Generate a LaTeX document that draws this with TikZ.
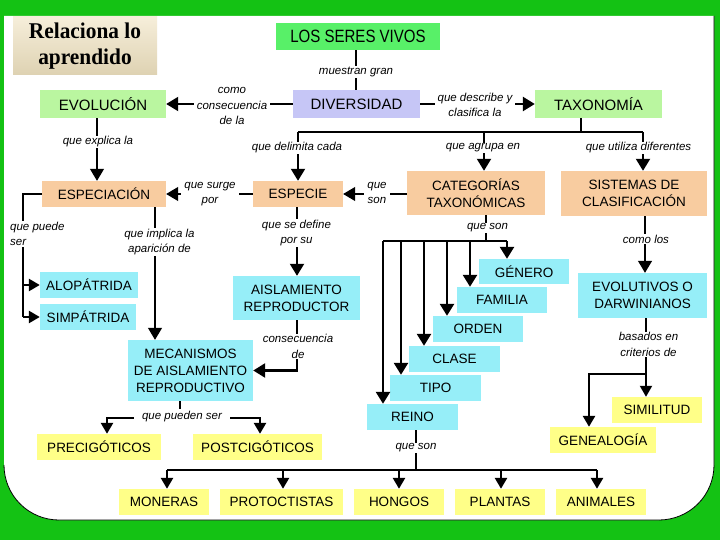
\documentclass[tikz,border=0pt]{standalone}
\usepackage{fontspec}
\setmainfont{Liberation Sans}
\newfontfamily\titlefont{Liberation Serif}
\usetikzlibrary{arrows.meta}
\definecolor{bggreen}{RGB}{20,194,20}
\definecolor{topgreen}{RGB}{88,240,104}
\definecolor{lgreen}{RGB}{186,246,160}
\definecolor{lav}{RGB}{198,198,246}
\definecolor{peach}{RGB}{248,204,160}
\definecolor{cyanbox}{RGB}{150,238,248}
\definecolor{ybox}{RGB}{255,255,136}
\definecolor{beige1}{RGB}{246,238,218}
\definecolor{beige2}{RGB}{222,210,178}
\begin{document}
\begin{tikzpicture}[x=1pt,y=-1pt,
  box/.style={rectangle, inner sep=0pt, align=center, font=\fontsize{13.5}{17}\selectfont},
  bigbox/.style={box, font=\fontsize{15}{18}\selectfont},
  gbox/.style={bigbox, fill=lgreen},
  pbox/.style={box, fill=peach},
  cbox/.style={box, fill=cyanbox},
  ybx/.style={box, fill=ybox},
  lbl/.style={fill=white, inner xsep=3pt, inner ysep=1pt, align=center, font=\itshape\fontsize{11.5}{15.5}\selectfont},
  thinln/.style={line width=1.3pt},
  midln/.style={line width=2pt},
  thickln/.style={line width=2.6pt},
  arr/.style={-{Triangle[width=14pt,length=12pt]}},
  sarr/.style={-{Triangle[width=12pt,length=11pt]}}
]
\useasboundingbox (0,0) rectangle (720,540);
\fill[bggreen] (0,0) rectangle (720,540);
\fill[white] (4,16) -- (714,16) -- (714,465) .. controls (714,495.4) and (689.4,520) .. (659,520)
  -- (59,520) .. controls (28.6,520) and (4,495.4) .. (4,465) -- cycle;
\draw[line width=0.8pt] (714,16) -- (714,465) .. controls (714,495.4) and (689.4,520) .. (659,520)
  -- (59,520) .. controls (28.6,520) and (4,495.4) .. (4,465);

% title
\node[rectangle, top color=beige1, bottom color=beige2, minimum width=144pt, minimum height=58pt,
  inner sep=0pt, align=center, font=\titlefont\bfseries\fontsize{22.5}{26}\selectfont] (title) at (85,46)
  {\scalebox{0.95}[1]{Relaciona lo}\\\scalebox{0.95}[1]{aprendido}};

% boxes
\node[bigbox, fill=topgreen, minimum width=164pt, minimum height=27pt, font=\fontsize{15.5}{18}\selectfont] (seres) at (358,36.5) {\scalebox{0.97}[1.15]{LOS SERES VIVOS}};
\node[bigbox, fill=lav, minimum width=127pt, minimum height=28pt] (div) at (356.5,104) {DIVERSIDAD};
\node[gbox, minimum width=126pt, minimum height=28pt] (evo) at (103,104) {EVOLUCIÓN};
\node[gbox, minimum width=127pt, minimum height=28pt] (tax) at (598.5,104) {TAXONOMÍA};
\node[pbox, minimum width=124pt, minimum height=26pt] (espn) at (104,194) {ESPECIACIÓN};
\node[pbox, minimum width=90pt, minimum height=26pt] (esp) at (298,194) {ESPECIE};
\node[pbox, minimum width=138pt, minimum height=44pt] (cat) at (476,193) {CATEGORÍAS\\TAXONÓMICAS};
\node[pbox, minimum width=146pt, minimum height=45pt] (sis) at (634,193.5) {SISTEMAS DE\\CLASIFICACIÓN};
\node[cbox, minimum width=98pt, minimum height=26pt] (alo) at (89,285) {ALOPÁTRIDA};
\node[cbox, minimum width=96pt, minimum height=26pt] (sim) at (88,317) {SIMPÁTRIDA};
\node[cbox, minimum width=125pt, minimum height=61pt] (mec) at (190.5,370.5) {MECANISMOS\\DE AISLAMIENTO\\REPRODUCTIVO};
\node[cbox, minimum width=127pt, minimum height=44pt] (ais) at (296.5,298) {AISLAMIENTO\\REPRODUCTOR};
\node[ybx, minimum width=124pt, minimum height=26pt] (pre) at (99,447) {PRECIGÓTICOS};
\node[ybx, minimum width=129pt, minimum height=26pt] (post) at (257.5,447) {POSTCIGÓTICOS};
\node[cbox, minimum width=90pt, minimum height=25pt] (gen) at (524,271.5) {GÉNERO};
\node[cbox, minimum width=90pt, minimum height=26pt] (fam) at (502,300) {FAMILIA};
\node[cbox, minimum width=90pt, minimum height=26pt] (ord) at (478,329) {ORDEN};
\node[cbox, minimum width=91pt, minimum height=26pt] (cla) at (454.5,359) {CLASE};
\node[cbox, minimum width=91pt, minimum height=26pt] (tipo) at (435.5,388) {TIPO};
\node[cbox, minimum width=91pt, minimum height=26pt] (reino) at (412.5,417) {REINO};
\node[cbox, minimum width=129pt, minimum height=45pt] (evol) at (642.5,295.5) {EVOLUTIVOS O\\DARWINIANOS};
\node[ybx, minimum width=90pt, minimum height=26pt] (simi) at (657,410) {SIMILITUD};
\node[ybx, minimum width=106pt, minimum height=26pt] (gene) at (603,440) {GENEALOGÍA};
\node[ybx, minimum width=90pt, minimum height=26pt] (mon) at (164,502) {MONERAS};
\node[ybx, minimum width=123pt, minimum height=26pt] (pro) at (281.5,502) {PROTOCTISTAS};
\node[ybx, minimum width=90pt, minimum height=26pt] (hon) at (399,502) {HONGOS};
\node[ybx, minimum width=90pt, minimum height=26pt] (pla) at (500,502) {PLANTAS};
\node[ybx, minimum width=90pt, minimum height=26pt] (ani) at (601,502) {ANIMALES};

% connectors
\draw[thickln] (seres.south -| 356,0) -- (div.north -| 356,0);
\draw[midln,arr] (div.west) -- (evo.east);
\draw[thickln,arr] (div.east) -- (tax.west);
\coordinate (tb) at (581,132);
\draw[thickln] (tax.south -| tb) -- (tb);
\draw[thickln] (298,132) -- (643,132);
\draw[midln,arr] (298,132) -- (esp.north);
\draw[midln,arr] (484,132) -- (cat.north -| 484,0);
\draw[midln,arr] (643,132) -- (sis.north -| 643,0);
\draw[thinln,arr] (evo.south -| 97,0) -- (espn.north -| 97,0);
\draw[thinln,arr] (esp.west) -- (espn.east);
\draw[thinln,arr] (cat.west |- esp.east) -- (esp.east);
\draw[thickln] (espn.west) -- (23,194) -- (23,317);
\draw[thickln,sarr] (23,285) -- (alo.west);
\draw[thickln,sarr] (23,317) -- (sim.west);
\draw[thinln,arr] (espn.south -| 155,0) -- (mec.north -| 155,0);
\draw[midln,arr] (esp.south -| 297,0) -- (ais.north -| 297,0);
\draw[thickln,arr] (ais.south -| 297,0) -- (297,0 |- mec.east) -- (mec.east);
\draw[thickln] (mec.south -| 180,0) -- (180,418);
\draw[thickln,sarr] (180,418) -- (107,418) -- (pre.north -| 107,0);
\draw[thickln,sarr] (180,418) -- (260,418) -- (post.north -| 260,0);
\draw[thinln] (cat.south -| 486,0) -- (486,241);
\draw[thickln] (383,241) -- (507,241);
\draw[thickln,arr] (507,241) -- (gen.north -| 507,0);
\draw[thickln,arr] (470,241) -- (fam.north -| 470,0);
\draw[thickln,arr] (447,241) -- (ord.north -| 447,0);
\draw[thickln,arr] (424,241) -- (cla.north -| 424,0);
\draw[thickln,arr] (401,241) -- (tipo.north -| 401,0);
\draw[thickln,arr] (383,241) -- (reino.north -| 383,0);
\draw[thinln] (reino.south -| 416,0) -- (416,470);
\draw[thickln] (167,470) -- (597,470);
\draw[thickln,sarr] (167,470) -- (mon.north -| 167,0);
\draw[thickln,sarr] (283,470) -- (pro.north -| 283,0);
\draw[thickln,sarr] (399,470) -- (hon.north -| 399,0);
\draw[thickln,sarr] (501,470) -- (pla.north -| 501,0);
\draw[thickln,sarr] (597,470) -- (ani.north -| 597,0);
\draw[thinln,arr] (sis.south -| 645,0) -- (evol.north -| 645,0);
\draw[thinln] (evol.south -| 646,0) -- (646,374);
\draw[midln,sarr] (646,374) -- (simi.north -| 646,0);
\draw[thickln,sarr] (646,374) -- (589,374) -- (gene.north -| 589,0);

% labels
\node[lbl] (l1) at (356,72) {muestran gran};
\node[lbl] (l2) at (232,106) {como\\consecuencia\\de la};
\node[lbl] (l3) at (475,105) {que describe y\\clasifica la};
\node[lbl] (l4) at (297,148) {que delimita cada};
\node[lbl] (l5) at (483,148) {que agrupa en};
\node[lbl] (l6) at (638.5,148) {que utiliza diferentes};
\node[lbl] (l7) at (98,142) {que explica la};
\node[lbl] (l8) at (210,194) {que surge\\por};
\node[lbl] (l9) at (377,193) {que\\son};
\node[lbl, anchor=west, align=left] (l10) at (7,234) {que puede\\ser};
\node[lbl] (l11) at (159.5,242) {que implica la\\aparición de};
\node[lbl] (l12) at (296.5,233) {que se define\\por su};
\node[lbl] (l13) at (298,346.5) {consecuencia\\de};
\node[lbl, inner xsep=8pt, inner ysep=3pt] (l14) at (182,417) {que pueden ser};
\node[lbl] (l15) at (487.5,228) {que son};
\node[lbl] (l16) at (646,239) {como los};
\node[lbl] (l17) at (648.5,344.5) {basados en\\criterios de};
\node[lbl] (l18) at (416,448) {que son};
\end{tikzpicture}
\end{document}
